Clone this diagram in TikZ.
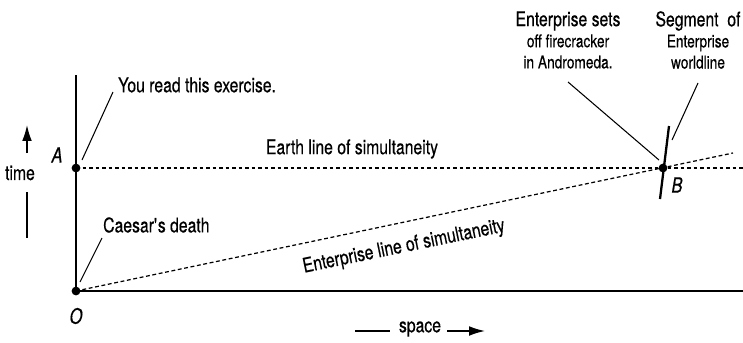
\documentclass[tikz,border=0pt]{standalone}
\usepackage{fontspec}
\setmainfont{TeX Gyre Heros}[FakeStretch=0.78, FakeBold=0.4]
\usetikzlibrary{positioning, arrows.meta}

\newcommand{\lbl}[1]{\fontsize{11.5}{13}\selectfont #1}
\newcommand{\ptname}[1]{\fontsize{12}{13}\selectfont\itshape #1}

\tikzset{
    axis/.style={line width=1.3pt},
    simline/.style={dash pattern=on 2.2pt off 1.5pt, line width=0.7pt},
    leader/.style={line width=0.6pt},
    event/.style={circle, fill=black, inner sep=0pt, minimum size=5pt},
    dirarrow/.style={line width=0.9pt, -{Latex[length=9pt, width=5.5pt]}},
}

\begin{document}
\begin{tikzpicture}[x=0.02cm, y=-0.02cm]
    % Page size (pixels of the reference)
    \useasboundingbox (0,0) rectangle (743,342);

    % Define the events
    \node[event] (O) at (76,291) {};
    \node[event] (A) at (76,168) {};
    \node[event] (B) at (663,168) {};

    % Draw the axes
    \coordinate (ttop) at (76,75);
    \coordinate (xend) at (743,291);
    \draw[axis] (O.center) -- (ttop);
    \draw[axis] (O.center) -- (xend);

    % Lines of simultaneity
    \coordinate (earthend) at (743,168);
    \coordinate (entend) at (733,153);
    \draw[simline] (A.center) -- (earthend);
    \draw[simline] (O.center) -- (entend);

    % Segment of worldline through B
    \coordinate (wltop) at (669,126);
    \coordinate (wlbot) at (660,199);
    \draw[axis] (wlbot) -- (wltop);

    % Point labels
    \node (Alabel) at (57,155) {\ptname{A}};
    \node (Olabel) at (76,316) {\ptname{O}};
    \node (Blabel) at (677,185) {\ptname{B}};

    % time axis label
    \node (time) at (20,173) {\lbl{time}};
    \coordinate (tup1) at (27,153);
    \coordinate (tup2) at (27,125);
    \coordinate (tdn1) at (27,192);
    \coordinate (tdn2) at (27,238);
    \draw[dirarrow] (tup1) -- (tup2);
    \draw[line width=0.9pt] (tdn1) -- (tdn2);

    % space axis label
    \node (space) at (420,329) {\lbl{space}};
    \coordinate (sl1) at (355,331);
    \coordinate (sl2) at (390,331);
    \coordinate (sr1) at (447,331);
    \coordinate (sr2) at (485,331);
    \draw[line width=0.9pt] (sl1) -- (sl2);
    \draw[dirarrow] (sr1) -- (sr2);

    % Labels with leaders
    \node[anchor=west] (read) at (112,85) {\lbl{You read this exercise.}};
    \coordinate (readpt) at (82,160);
    \draw[leader] (readpt) -- (113,92);

    \node[anchor=west] (caesar) at (97,225) {\lbl{Caesar\textquotesingle s death}};
    \coordinate (caesarpt) at (80,282);
    \draw[leader] (caesarpt) -- (102,238);

    \node[align=center] (fire) at (568,40) {\lbl{Enterprise sets\\off firecracker\\in Andromeda.}};
    \coordinate (firept) at (659,160);
    \draw[leader] (firept) -- (568,82);

    \node[align=center] (seg) at (698,40) {\lbl{Segment\ \ of\\Enterprise\\worldline}};
    \coordinate (segpt) at (672,140);
    \draw[leader] (segpt) -- (698,83);

    % Names of the two lines
    \node (earth) at (352,149) {\lbl{Earth line of simultaneity}};
    \node[rotate=11.6] (ent) at (404,247) {\lbl{Enterprise line of simultaneity}};

\end{tikzpicture}
\end{document}
